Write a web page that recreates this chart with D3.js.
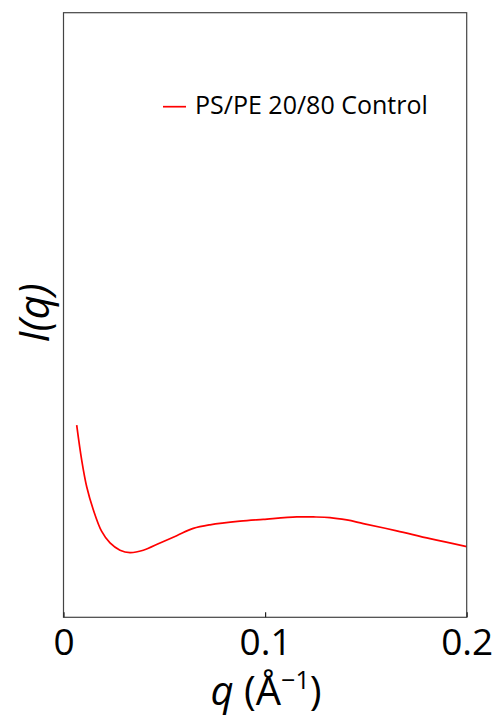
<!DOCTYPE html>
<html><head><meta charset="utf-8">
<script src="https://cdn.jsdelivr.net/npm/d3@7"></script>
<style>body{margin:0;background:#fff}text{font-family:"Open Sans",sans-serif}</style>
</head><body>
<script>
const qValues = [0.00655,0.00903,0.01151,0.01478,0.01895,0.02307,0.02803,0.03299,0.03958,0.04787,0.05615,0.06438,0.07267,0.08755,0.0991,0.1157,0.1239,0.1322,0.1405,0.1487,0.1653,0.1818,0.2];
const intensity = [3.18,2.60,2.16,1.78,1.42,1.23,1.11,1.07,1.11,1.23,1.35,1.47,1.53,1.59,1.62,1.66,1.66,1.65,1.61,1.55,1.43,1.30,1.17];
const xTicks = [0, 0.1, 0.2];
const xTickLabels = ["0", "0.1", "0.2"];
const seriesName = "PS/PE 20/80 Control";

const W = 499, H = 723;
const m = {l:63.5, r:32.3, t:12.7, b:105.7};
const svg = d3.select("body").append("svg").attr("width", W).attr("height", H);
const x = d3.scaleLinear().domain([0, 0.2]).range([m.l, W - m.r]);
const y = d3.scaleLinear().domain([0, 10]).range([H - m.b, m.t]);

const line = d3.line().x((d,i)=>x(qValues[i])).y(d=>y(d)).curve(d3.curveCatmullRom.alpha(0.5));
svg.append("path").datum(intensity).attr("d", line)
  .attr("fill","none").attr("stroke","#ff0000").attr("stroke-width",1.7);

svg.append("rect").attr("x", m.l).attr("y", m.t).attr("width", W-m.l-m.r).attr("height", H-m.t-m.b)
  .attr("fill","none").attr("stroke","#444").attr("stroke-width",1.2);

const xAxis = d3.axisBottom(x).tickValues(xTicks).tickFormat((d,i)=>xTickLabels[i]).tickSizeInner(-5).tickSizeOuter(0).tickPadding(11);
const gx = svg.append("g").attr("transform", `translate(0,${H-m.b})`).call(xAxis);
gx.select(".domain").remove();
gx.selectAll(".tick line").attr("stroke","#222").attr("stroke-width",1.2);
gx.selectAll(".tick text").attr("font-size",37).attr("fill","#000").attr("font-family","'Open Sans',sans-serif");

const xl = svg.append("text").attr("x", 266).attr("y", 705).attr("text-anchor","middle").attr("font-size",40).attr("fill","#000");
xl.append("tspan").attr("font-style","italic").text("q");
xl.append("tspan").text(" (Å");
xl.append("tspan").attr("font-size",25).attr("dy",-16).text("−1");
xl.append("tspan").attr("dy",16).text(")");

const yl = svg.append("text").attr("transform","translate(49,313) rotate(-90)").attr("text-anchor","middle").attr("font-size",42).attr("font-style","italic").attr("fill","#000");
yl.text("I(q)");

const lg = svg.append("g");
lg.append("line").attr("x1",163).attr("x2",186).attr("y1",106.7).attr("y2",106.7).attr("stroke","#ff0000").attr("stroke-width",1.7);
lg.append("text").attr("x",195).attr("y",113.5).attr("font-size",25).attr("fill","#000").text(seriesName);
</script>
</body></html>
